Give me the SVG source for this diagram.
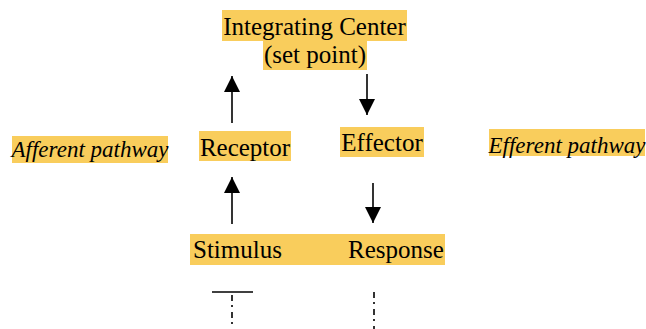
<svg xmlns="http://www.w3.org/2000/svg" width="646" height="329" viewBox="0 0 646 329">
  <style>
    .hl { fill: #f9cd5c; }
    .lbl { font-family: "Liberation Serif", "Times New Roman", serif; font-size: 25px; fill: #000; }
    .it { font-style: italic; font-size: 23px; }
    .line { stroke: #000; stroke-width: 1.6; fill: none; }
    .dd { stroke: #000; stroke-width: 1.6; fill: none; stroke-dasharray: 6 4 2 5; }
  </style>
  <defs>
    <marker id="head" viewBox="0 0 16 16" refX="16" refY="8" markerWidth="16" markerHeight="16" markerUnits="userSpaceOnUse" orient="auto">
      <path d="M0,0 L16,8 L0,16 Z" fill="#000"/>
    </marker>
  </defs>

  <rect width="646" height="329" fill="#fff"/>

  <g id="integrating-center">
    <rect class="hl" x="222" y="10" width="185" height="31"/>
    <rect class="hl" x="263" y="41" width="104" height="29"/>
    <text class="lbl" x="314.5" y="35" text-anchor="middle">Integrating Center</text>
    <text class="lbl" x="315" y="63" text-anchor="middle">(set point)</text>
  </g>

  <g id="afferent-pathway">
    <rect class="hl" x="12" y="136" width="156" height="27"/>
    <text class="lbl it" x="90" y="157" text-anchor="middle">Afferent pathway</text>
  </g>

  <g id="receptor">
    <rect class="hl" x="199" y="131" width="92" height="30"/>
    <text class="lbl" x="245" y="156" text-anchor="middle">Receptor</text>
  </g>

  <g id="effector">
    <rect class="hl" x="340" y="127" width="84" height="30"/>
    <text class="lbl" x="382" y="151" text-anchor="middle">Effector</text>
  </g>

  <g id="efferent-pathway">
    <rect class="hl" x="489" y="129" width="156" height="27"/>
    <text class="lbl it" x="567" y="153" text-anchor="middle">Efferent pathway</text>
  </g>

  <g id="stimulus-response">
    <rect class="hl" x="190" y="234" width="255" height="31"/>
    <text class="lbl" x="193" y="258">Stimulus</text>
    <text class="lbl" x="348" y="258">Response</text>
  </g>

  <g id="connectors">
    <!-- upward: receptor to integrating center -->
    <line class="line" x1="232" y1="123" x2="232" y2="76" marker-end="url(#head)"/>
    <!-- downward: integrating center to effector -->
    <line class="line" x1="367" y1="74" x2="367" y2="115" marker-end="url(#head)"/>
    <!-- upward: stimulus to receptor -->
    <line class="line" x1="232" y1="224" x2="232" y2="177" marker-end="url(#head)"/>
    <!-- downward: effector to response -->
    <line class="line" x1="373" y1="183" x2="373" y2="223" marker-end="url(#head)"/>
    <!-- feedback lines -->
    <line class="line" x1="212" y1="292" x2="253" y2="292"/>
    <line class="dd" x1="232" y1="295" x2="232" y2="329"/>
    <line class="dd" x1="374" y1="292" x2="374" y2="329"/>
  </g>
</svg>
